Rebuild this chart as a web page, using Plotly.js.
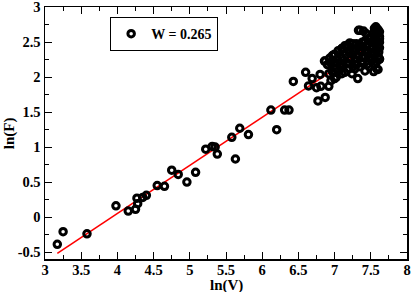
<!DOCTYPE html>
<html>
<head>
<meta charset="utf-8">
<script src="https://cdn.plot.ly/plotly-3.0.1.min.js"></script>
<style>html,body{margin:0;padding:0;background:#fff;}#chart{width:411px;height:292px;}</style>
</head>
<body>
<div id="chart"></div>
<script>
// Scatter data: ln(V) and ln(F)
const lnV = [
  3.17, 3.25, 3.58, 3.98, 4.15, 4.25, 4.27, 4.28, 4.35, 4.40,
  4.55, 4.65, 4.75, 4.84, 4.96, 5.08, 5.22, 5.31, 5.35, 5.38,
  5.58, 5.63, 5.69, 5.81, 6.12, 6.20, 6.31, 6.37, 6.43, 6.60,
  6.64, 6.69, 6.75, 6.77, 6.81, 6.80, 6.87, 6.92, 6.86, 6.97,
  7.02, 7.10, 7.33, 7.32, 7.54, 7.60, 7.62,
  7.55, 7.58, 7.60, 7.57, 7.62, 7.60, 7.62, 7.56, 7.53, 7.50,
  7.62, 7.58, 7.62, 7.55, 7.60, 7.62, 7.57, 7.50, 7.47, 7.44,
  7.40, 7.35, 7.45, 7.42, 7.38, 7.35, 7.30, 7.25, 7.21, 7.18,
  7.14, 7.10, 7.05, 7.00, 6.98, 6.93, 6.87, 6.90, 6.95, 7.00,
  7.05, 7.10, 7.15, 7.20, 7.25, 7.30, 7.35, 7.40, 7.45, 7.50,
  7.55, 7.60, 7.62, 7.58, 7.52, 7.48, 7.42, 7.38, 7.33, 7.28,
  7.22, 7.18, 7.12, 7.08, 7.02, 6.97, 6.92, 7.05, 7.14, 7.24,
  7.42, 7.58, 7.28, 7.35, 7.45, 7.38, 7.30, 7.20, 7.25, 7.10,
  7.02, 6.95, 7.48, 7.55, 7.00, 7.52, 7.56, 7.59, 7.61, 7.57
];
const lnF = [
  -0.39, -0.21, -0.24, 0.16, 0.085, 0.11, 0.27, 0.19, 0.28, 0.31,
  0.45, 0.44, 0.67, 0.61, 0.50, 0.64, 0.97, 1.01, 1.00, 0.90,
  1.14, 0.83, 1.27, 1.18, 1.53, 1.25, 1.53, 1.53, 1.94, 2.07,
  1.875, 1.98, 1.85, 1.66, 1.87, 2.04, 1.71, 1.87, 2.23, 2.31,
  2.00, 2.41, 2.67, 1.98, 2.08, 2.11, 2.26,
  2.70, 2.70, 2.68, 2.66, 2.65, 2.62, 2.58, 2.60, 2.62, 2.58,
  2.55, 2.52, 2.50, 2.48, 2.45, 2.42, 2.40, 2.50, 2.55, 2.62,
  2.66, 2.67, 2.45, 2.52, 2.50, 2.45, 2.48, 2.48, 2.49, 2.46,
  2.45, 2.41, 2.38, 2.33, 2.31, 2.27, 2.23, 2.18, 2.20, 2.22,
  2.25, 2.28, 2.32, 2.35, 2.38, 2.40, 2.38, 2.42, 2.38, 2.35,
  2.33, 2.30, 2.26, 2.22, 2.25, 2.28, 2.30, 2.28, 2.30, 2.26,
  2.25, 2.20, 2.18, 2.15, 2.12, 2.08, 2.05, 2.09, 2.07, 2.05,
  2.09, 2.12, 2.12, 2.15, 2.18, 2.20, 2.18, 2.12, 2.15, 2.05,
  2.00, 1.95, 2.15, 2.18, 1.98, 2.44, 2.56, 2.64, 2.36, 2.72
];
// Fit line end points
const fitX = [3.17, 7.62];
const fitY = [-0.52, 2.54];
const xTicks = [3, 3.5, 4, 4.5, 5, 5.5, 6, 6.5, 7, 7.5, 8];
const xTickText = ["3", "3.5", "4", "4.5", "5", "5.5", "6", "6.5", "7", "7.5", "8"];
const yTicks = [-0.5, 0, 0.5, 1, 1.5, 2, 2.5, 3];
const yTickText = ["-0.5", "0", "0.5", "1", "1.5", "2", "2.5", "3"];
const legendLabel = "W = 0.265";
const xTitle = "ln(V)";
const yTitle = "ln(F)";

const fam = "Liberation Serif, Times New Roman, serif";
const bold = s => "<b>" + s + "</b>";

const traces = [
  {
    x: fitX, y: fitY, type: "scatter", mode: "lines",
    line: {color: "#ff0000", width: 1.6}, showlegend: false, hoverinfo: "skip"
  },
  {
    x: lnV, y: lnF, type: "scatter", mode: "markers", name: bold(legendLabel),
    marker: {symbol: "circle-open", size: 6.5, color: "#000", line: {color: "#000", width: 3}}
  }
];

const axisCommon = {
  showline: true, linecolor: "#000", linewidth: 1.5, mirror: "ticks",
  ticks: "inside", ticklen: 7, tickwidth: 1, tickcolor: "#000",
  showgrid: false, zeroline: false, ticklabeloverflow: "allow",
  tickfont: {family: fam, size: 14.5, color: "#000"},
  minor: {ticks: "inside", ticklen: 4, tickwidth: 1, tickcolor: "#000", showgrid: false}
};

const layout = {
  width: 411, height: 292,
  margin: {l: 45, r: 4, t: 7, b: 33},
  paper_bgcolor: "#fff", plot_bgcolor: "#fff",
  font: {family: fam, size: 14, color: "#000"},
  showlegend: true,
  legend: {
    x: 0.18, y: 0.96, xanchor: "left", yanchor: "top",
    bordercolor: "#000", borderwidth: 1, bgcolor: "#fff",
    font: {family: fam, size: 14, color: "#000"},
    itemwidth: 30, tracegroupgap: 0
  },
  xaxis: Object.assign({}, axisCommon, {
    range: [3, 8], tickvals: xTicks, ticktext: xTickText.map(bold),
    ticklabelstandoff: -3,
    minor: Object.assign({}, axisCommon.minor, {dtick: 0.25, tick0: 3})
  }),
  yaxis: Object.assign({}, axisCommon, {
    range: [-0.6, 3.004], tickvals: yTicks, ticktext: yTickText.map(bold),
    minor: Object.assign({}, axisCommon.minor, {dtick: 0.25, tick0: 0})
  }),
  annotations: [
    {text: bold(xTitle), xref: "paper", yref: "paper", x: 0.5, y: -0.104, xanchor: "center", yanchor: "middle",
     showarrow: false, font: {family: fam, size: 15, color: "#000"}},
    {text: bold(yTitle), xref: "paper", yref: "paper", x: -0.099, y: 0.5, xanchor: "center", yanchor: "middle",
     textangle: -90, showarrow: false, font: {family: fam, size: 15, color: "#000"}}
  ]
};

Plotly.newPlot("chart", traces, layout, {displayModeBar: false, staticPlot: true});
</script>
</body>
</html>
